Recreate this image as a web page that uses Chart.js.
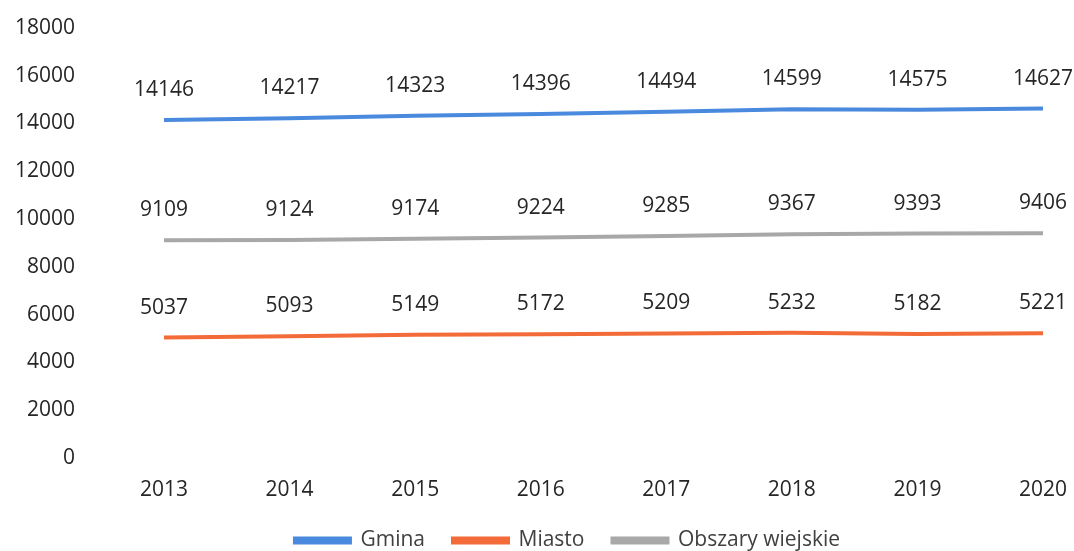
<!DOCTYPE html>
<html>
<head>
<meta charset="utf-8">
<script src="https://cdn.jsdelivr.net/npm/chart.js@4"></script>
<style>
  html, body { margin: 0; padding: 0; background: #fff; }
  #wrap { width: 1074px; height: 551px; }
</style>
</head>
<body>
<div id="wrap"><canvas id="chart"></canvas></div>
<script>
// data
const years = ['2013', '2014', '2015', '2016', '2017', '2018', '2019', '2020'];
const gmina = [14146, 14217, 14323, 14396, 14494, 14599, 14575, 14627];
const miasto = [5037, 5093, 5149, 5172, 5209, 5232, 5182, 5221];
const obszaryWiejskie = [9109, 9124, 9174, 9224, 9285, 9367, 9393, 9406];

const COLORS = {
  blue: '#4a8ade',
  orange: '#f26b38',
  gray: '#a8a8a8',
  text: '#262626',
};

const FONT = "'Open Sans', sans-serif";
const FONT_SIZE = 21;
Chart.defaults.font.family = FONT;
Chart.defaults.color = COLORS.text;

// value labels above each point
const valueLabels = {
  id: 'valueLabels',
  afterDatasetsDraw(chart) {
    const ctx = chart.ctx;
    ctx.save();
    ctx.font = `${FONT_SIZE}px ${FONT}`;
    ctx.fillStyle = COLORS.text;
    ctx.textAlign = 'center';
    ctx.textBaseline = 'middle';
    chart.data.datasets.forEach((ds, i) => {
      const meta = chart.getDatasetMeta(i);
      meta.data.forEach((pt, j) => {
        ctx.fillText(String(ds.data[j]), pt.x, pt.y - 30);
      });
    });
    ctx.restore();
  }
};

// the legend sits a bit right of centre in the original
const legendShift = {
  id: 'legendShift',
  afterLayout(chart) {
    if (!chart.legend) return;
    chart.legend.left += 46;
    chart.legend.right += 46;
  }
};

const line = (label, data, color) => ({
  label,
  data,
  borderColor: color,
  backgroundColor: color,
  borderWidth: 4,
  pointRadius: 0,
  tension: 0,
  fill: false,
});

new Chart(document.getElementById('chart'), {
  type: 'line',
  data: {
    labels: years,
    datasets: [
      line('Gmina', gmina, COLORS.blue),
      line('Miasto', miasto, COLORS.orange),
      line('Obszary wiejskie', obszaryWiejskie, COLORS.gray),
    ]
  },
  options: {
    responsive: true,
    maintainAspectRatio: false,
    animation: false,
    layout: { padding: { top: 28, right: 31, bottom: -10, left: 0 } },
    plugins: {
      tooltip: { enabled: false },
      legend: {
        position: 'bottom',
        labels: {
          boxWidth: 55,
          boxHeight: 4,
          padding: 28,
          color: '#404040',
          font: { size: FONT_SIZE },
        }
      }
    },
    scales: {
      x: {
        offset: false,
        grid: { display: false },
        border: { display: false },
        afterFit: (axis) => {
          axis.height -= 13;
          axis.paddingLeft = 0;
          axis.paddingRight = 0;
        },
        ticks: { padding: 12, font: { size: FONT_SIZE }, maxRotation: 0 }
      },
      y: {
        min: 0,
        max: 18000,
        grid: { display: false },
        border: { display: false },
        afterFit: (axis) => {
          axis.width = 164;
          axis.paddingTop = 0;
          axis.paddingBottom = 0;
        },
        ticks: { stepSize: 2000, padding: 81, font: { size: FONT_SIZE }, callback: v => String(v) }
      }
    }
  },
  plugins: [valueLabels, legendShift]
});
</script>
</body>
</html>
